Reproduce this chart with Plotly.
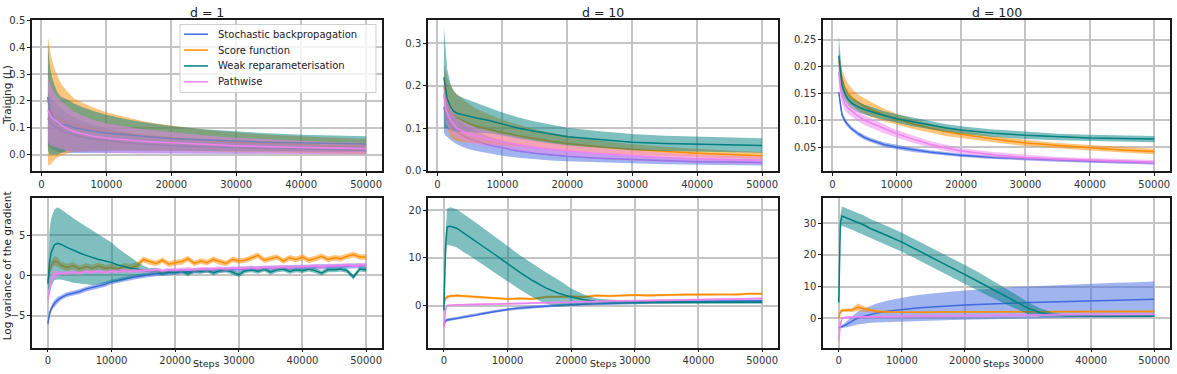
import plotly.graph_objects as go

# ---------------- data ----------------
names = ["Stochastic backpropagation", "Score function", "Weak reparameterisation", "Pathwise"]
titles = ["d = 1", "d = 10", "d = 100"]
x_ticks = [0, 10000, 20000, 30000, 40000, 50000]
x_ticklabels = ["0", "10000", "20000", "30000", "40000", "50000"]

steps_train = [1000, 1250, 1500, 2000, 2500, 3000, 4000, 5000, 6000, 8000, 10000, 12500,
               15000, 17500, 20000, 25000, 30000, 35000, 40000, 45000, 50000]

# d = 1, training loss (mean, std)
d1_train_sbp = [0.135, 0.125, 0.115, 0.105, 0.096, 0.090, 0.080, 0.073, 0.067, 0.058, 0.052, 0.045, 0.040, 0.036, 0.033, 0.028, 0.025, 0.022, 0.020, 0.018, 0.017]
d1_train_sbp_sd = [0.100, 0.098, 0.095, 0.090, 0.086, 0.082, 0.074, 0.066, 0.061, 0.052, 0.046, 0.040, 0.035, 0.031, 0.028, 0.024, 0.021, 0.019, 0.017, 0.016, 0.015]
d1_train_score = [0.200, 0.180, 0.165, 0.150, 0.140, 0.130, 0.120, 0.110, 0.105, 0.095, 0.088, 0.080, 0.073, 0.067, 0.062, 0.053, 0.046, 0.041, 0.037, 0.033, 0.030]
d1_train_score_sd = [0.240, 0.220, 0.200, 0.170, 0.150, 0.135, 0.115, 0.100, 0.092, 0.080, 0.070, 0.062, 0.055, 0.050, 0.046, 0.040, 0.036, 0.033, 0.031, 0.030, 0.028]
d1_train_weak = [0.215, 0.170, 0.150, 0.130, 0.115, 0.110, 0.110, 0.100, 0.095, 0.087, 0.080, 0.074, 0.068, 0.064, 0.060, 0.054, 0.050, 0.046, 0.043, 0.041, 0.039]
d1_train_weak_sd = [0.200, 0.170, 0.150, 0.130, 0.115, 0.105, 0.095, 0.090, 0.085, 0.075, 0.068, 0.060, 0.055, 0.050, 0.046, 0.040, 0.036, 0.033, 0.031, 0.030, 0.029]
d1_train_path = [0.165, 0.152, 0.142, 0.130, 0.120, 0.110, 0.096, 0.085, 0.079, 0.068, 0.062, 0.056, 0.050, 0.047, 0.044, 0.038, 0.033, 0.029, 0.026, 0.024, 0.022]
d1_train_path_sd = [0.120, 0.115, 0.110, 0.100, 0.095, 0.090, 0.082, 0.075, 0.070, 0.061, 0.055, 0.050, 0.046, 0.043, 0.040, 0.034, 0.030, 0.027, 0.025, 0.023, 0.022]

# d = 10, training loss
d10_train_sbp = [0.150, 0.130, 0.120, 0.107, 0.098, 0.092, 0.082, 0.075, 0.069, 0.060, 0.053, 0.046, 0.041, 0.037, 0.034, 0.029, 0.026, 0.023, 0.021, 0.020, 0.019]
d10_train_sbp_sd = [0.060, 0.048, 0.040, 0.035, 0.032, 0.030, 0.027, 0.025, 0.023, 0.020, 0.018, 0.016, 0.014, 0.013, 0.012, 0.010, 0.009, 0.008, 0.008, 0.007, 0.007]
d10_train_score = [0.200, 0.175, 0.160, 0.140, 0.130, 0.125, 0.117, 0.110, 0.105, 0.097, 0.090, 0.082, 0.075, 0.069, 0.064, 0.056, 0.050, 0.045, 0.041, 0.038, 0.035]
d10_train_score_sd = [0.050, 0.058, 0.060, 0.060, 0.058, 0.055, 0.050, 0.045, 0.041, 0.035, 0.030, 0.026, 0.022, 0.020, 0.018, 0.015, 0.012, 0.011, 0.010, 0.009, 0.009]
d10_train_weak = [0.220, 0.190, 0.170, 0.150, 0.140, 0.135, 0.131, 0.128, 0.124, 0.118, 0.110, 0.100, 0.093, 0.086, 0.080, 0.073, 0.067, 0.064, 0.062, 0.061, 0.059]
d10_train_weak_sd = [0.120, 0.090, 0.070, 0.055, 0.048, 0.044, 0.040, 0.037, 0.035, 0.030, 0.027, 0.025, 0.023, 0.022, 0.021, 0.020, 0.019, 0.018, 0.018, 0.018, 0.017]
d10_train_path = [0.180, 0.150, 0.135, 0.120, 0.110, 0.100, 0.092, 0.086, 0.081, 0.074, 0.068, 0.061, 0.055, 0.050, 0.046, 0.040, 0.035, 0.031, 0.028, 0.026, 0.024]
d10_train_path_sd = [0.035, 0.032, 0.030, 0.027, 0.025, 0.024, 0.022, 0.021, 0.020, 0.019, 0.018, 0.017, 0.016, 0.015, 0.014, 0.013, 0.012, 0.011, 0.010, 0.010, 0.009]

# d = 100, training loss
d100_train_sbp = [0.152, 0.125, 0.110, 0.098, 0.090, 0.084, 0.075, 0.068, 0.063, 0.055, 0.050, 0.045, 0.041, 0.038, 0.035, 0.031, 0.028, 0.026, 0.024, 0.022, 0.021]
d100_train_sbp_sd = [0.006, 0.005, 0.005, 0.005, 0.004, 0.004, 0.004, 0.004, 0.004, 0.004, 0.004, 0.004, 0.004, 0.003, 0.003, 0.003, 0.003, 0.003, 0.003, 0.003, 0.003]
d100_train_score = [0.210, 0.190, 0.175, 0.160, 0.150, 0.143, 0.133, 0.126, 0.120, 0.110, 0.102, 0.093, 0.086, 0.079, 0.074, 0.065, 0.058, 0.053, 0.049, 0.045, 0.042]
d100_train_score_sd = [0.020, 0.019, 0.018, 0.018, 0.017, 0.016, 0.015, 0.015, 0.014, 0.012, 0.010, 0.009, 0.008, 0.008, 0.007, 0.006, 0.006, 0.005, 0.005, 0.005, 0.005]
d100_train_weak = [0.220, 0.190, 0.165, 0.148, 0.138, 0.132, 0.125, 0.120, 0.116, 0.109, 0.103, 0.097, 0.091, 0.086, 0.082, 0.076, 0.072, 0.069, 0.067, 0.066, 0.065]
d100_train_weak_sd = [0.040, 0.028, 0.020, 0.012, 0.011, 0.010, 0.010, 0.009, 0.009, 0.008, 0.008, 0.008, 0.007, 0.007, 0.007, 0.007, 0.007, 0.006, 0.006, 0.006, 0.006]
d100_train_path = [0.190, 0.160, 0.145, 0.130, 0.122, 0.117, 0.108, 0.100, 0.095, 0.084, 0.075, 0.065, 0.056, 0.049, 0.043, 0.036, 0.031, 0.028, 0.026, 0.024, 0.022]
d100_train_path_sd = [0.020, 0.016, 0.014, 0.012, 0.011, 0.010, 0.010, 0.009, 0.009, 0.008, 0.007, 0.007, 0.006, 0.006, 0.005, 0.005, 0.005, 0.004, 0.004, 0.004, 0.004]

# log variance of the gradient, d = 1 (finer step grid)
steps_var_d1 = [0, 250, 500, 750, 1000, 1500, 2000, 3000, 4000, 5000, 6000, 7000, 8000, 9000,
                10000, 11000, 12000, 13000, 14000, 15000, 16000, 17000, 18000, 19000, 20000,
                21000, 22000, 23000, 24000, 25000, 26000, 27000, 28000, 29000, 30000, 31000,
                32000, 33000, 34000, 35000, 36000, 37000, 38000, 39000, 40000, 41000, 42000,
                43000, 44000, 45000, 46000, 47000, 48000, 49000, 50000]
d1_var_sbp = [-6.0, -4.8, -4.2, -3.8, -3.5, -3.1,
              -2.8, -2.4, -2.2, -2.0, -1.7, -1.5, -1.3, -1.1, -0.8, -0.6, -0.45, -0.3, -0.15, 0.0,
              0.1, 0.2, 0.3, 0.35, 0.4, 0.45,
              0.5, 0.55, 0.6, 0.6, 0.65, 0.7, 0.7, 0.75, 0.8,
              0.8, 0.85, 0.85, 0.9, 0.9, 0.95, 0.95, 1.0, 1.0, 1.0,
              1.05, 1.05, 1.1, 1.1, 1.1, 1.15, 1.15, 1.2, 1.2, 1.2]
d1_var_sbp_sd = [0.3, 0.4, 0.4, 0.4, 0.4, 0.4,
                 0.3, 0.3, 0.3, 0.3, 0.3, 0.3, 0.3, 0.3, 0.3, 0.3, 0.3, 0.3, 0.3, 0.3,
                 0.3, 0.3, 0.3, 0.3, 0.3, 0.3, 0.3, 0.3, 0.3, 0.3, 0.3, 0.3, 0.3, 0.3, 0.3,
                 0.3, 0.3, 0.3, 0.3, 0.3, 0.3, 0.3, 0.3, 0.3, 0.3, 0.3, 0.3, 0.3, 0.3, 0.3,
                 0.3, 0.3, 0.3, 0.3, 0.3]
d1_var_score = [-1.0, 0.5, 1.2, 1.6, 1.8, 1.7,
                1.3, 1.0, 1.2, 0.8, 1.1, 0.9, 1.2, 0.9, 1.0, 0.8, 1.1, 1.0, 1.2, 2.0,
                1.7, 1.5, 1.9, 1.4, 1.6, 1.7, 2.1, 1.5, 1.8, 1.6, 2.0, 1.7, 1.5, 2.0,
                1.8, 1.9, 2.2, 2.5, 1.9, 2.1, 2.3, 1.8, 2.2, 2.0, 2.3, 1.9, 2.1, 2.4,
                2.0, 2.2, 2.1, 2.4, 2.6, 2.3, 2.3]
d1_var_score_sd = [0.3, 0.5, 0.6, 0.6, 0.6, 0.6,
                   0.45, 0.45, 0.45, 0.45, 0.45, 0.45, 0.45, 0.45, 0.45, 0.45, 0.45, 0.45, 0.45,
                   0.35, 0.35, 0.35, 0.35, 0.35, 0.35, 0.35, 0.35, 0.35, 0.35, 0.35, 0.35, 0.35,
                   0.35, 0.35, 0.35, 0.35, 0.35, 0.35, 0.35, 0.35, 0.35, 0.35, 0.35, 0.35, 0.35,
                   0.35, 0.35, 0.35, 0.35, 0.35, 0.35, 0.35, 0.35, 0.35, 0.35]
d1_var_weak = [-1.0, 1.5, 2.8, 3.4, 3.8, 4.0,
               3.9, 3.5, 3.1, 2.8, 2.5, 2.2, 2.0, 1.8, 1.6, 1.3, 1.1, 0.9, 0.8, 0.6,
               0.5, 0.6, 0.3, 0.5, 0.4, 0.6, 0.2, 0.6, 0.5, 0.7, 0.3, 0.6, 0.7, 0.4,
               0.1, 0.6, 0.7, 0.5, 0.8, 0.4, 0.7, 0.8, 0.5, 0.7, 0.6, 0.8, 0.6, 0.3,
               0.7, 0.7, 0.8, 0.6, -0.2, 0.8, 0.7]
d1_var_weak_sd = [0.5, 4.0, 4.3, 4.4, 4.4, 4.5,
                  4.4, 4.2, 4.0, 3.8, 3.6, 3.4, 3.1, 2.8, 2.5, 2.1, 1.7, 1.3, 0.9, 0.6,
                  0.4, 0.35, 0.35, 0.3, 0.3,
                  0.3, 0.3, 0.3, 0.3, 0.3, 0.3, 0.3, 0.3, 0.3, 0.3, 0.3, 0.3, 0.3, 0.3, 0.3,
                  0.3, 0.3, 0.3, 0.3, 0.3, 0.3, 0.3, 0.3, 0.3, 0.3, 0.3, 0.3, 0.3, 0.3, 0.3]
d1_var_path = [-3.0, -1.5, -0.5, 0.0, 0.1, 0.2,
               0.3, 0.3, 0.4, 0.3, 0.5, 0.4, 0.5, 0.4, 0.5, 0.5,
               0.6, 0.5, 0.6, 0.6, 0.6, 0.7, 0.6, 0.7, 0.7, 0.7,
               0.8, 0.7, 0.8, 0.8, 0.8, 0.9, 0.8, 0.9, 0.9, 0.9,
               1.0, 0.9, 1.0, 1.0, 1.0, 1.1, 1.0, 1.1, 1.1, 1.1,
               1.2, 1.1, 1.2, 1.2, 1.2, 1.3, 1.2, 1.3, 1.3]
d1_var_path_sd = [0.6, 0.7, 0.7, 0.6, 0.5, 0.4,
                  0.25, 0.25, 0.25, 0.25, 0.25, 0.25, 0.25, 0.25, 0.25, 0.25,
                  0.25, 0.25, 0.25, 0.25, 0.25, 0.25, 0.25, 0.25, 0.25, 0.25,
                  0.25, 0.25, 0.25, 0.25, 0.25, 0.25, 0.25, 0.25, 0.25, 0.25,
                  0.25, 0.25, 0.25, 0.25, 0.25, 0.25, 0.25, 0.25, 0.25, 0.25,
                  0.25, 0.25, 0.25, 0.25, 0.25, 0.25, 0.25, 0.25, 0.25]

# log variance of the gradient, d = 10 and d = 100
steps_var = [0, 250, 500, 1000, 2000, 3000, 4000, 5000, 6000, 8000, 10000, 12000, 14000,
             16000, 18000, 20000, 22000, 24000, 26000, 28000, 30000, 32000, 34000, 36000,
             38000, 40000, 42000, 44000, 46000, 48000, 50000]
d10_var_sbp = [-4.0, -3.2, -3.0, -2.9, -2.7, -2.4, -2.2, -2.0, -1.7, -1.2, -0.8, -0.5, -0.3, -0.1, 0.1, 0.2,
               0.3, 0.4, 0.5, 0.6, 0.6, 0.7, 0.75, 0.8, 0.85, 0.9, 0.9, 0.95, 1.0, 1.0, 1.0]
d10_var_sbp_sd = [0.5, 0.4, 0.35, 0.3, 0.3, 0.3, 0.3, 0.3, 0.3, 0.3, 0.3, 0.3, 0.3, 0.3, 0.3, 0.3,
                  0.3, 0.3, 0.3, 0.3, 0.3, 0.3, 0.3, 0.3, 0.3, 0.3, 0.3, 0.3, 0.3, 0.3, 0.3]
d10_var_score = [0.5, 1.5, 1.8, 2.0, 2.1, 2.0, 1.9, 1.8, 1.7, 1.5, 1.4, 1.5, 1.4, 1.8, 1.9, 1.9,
                 1.8, 2.1, 2.0, 2.1, 2.2, 2.1, 2.2, 2.2, 2.3, 2.3, 2.3, 2.4, 2.3, 2.5, 2.5]
d10_var_score_sd = [0.3, 0.4, 0.4, 0.3, 0.3, 0.25, 0.25, 0.25, 0.25, 0.25, 0.25, 0.25, 0.25, 0.25, 0.25, 0.25,
                    0.25, 0.25, 0.25, 0.25, 0.25, 0.25, 0.25, 0.25, 0.25, 0.25, 0.25, 0.25, 0.25, 0.25, 0.25]
d10_var_weak = [-1.0, 12.0, 16.5, 16.6, 16.2, 15.3, 14.4, 13.5, 12.6, 10.7, 8.8, 6.9, 5.2, 3.7, 2.6, 1.8,
                1.2, 0.9, 0.8, 0.75, 0.7, 0.7, 0.7, 0.7, 0.7, 0.7, 0.7, 0.7, 0.7, 0.7, 0.7]
d10_var_weak_sd = [0.5, 3.0, 3.8, 4.0, 4.0, 4.0, 3.9, 3.9, 3.8, 3.8, 3.7, 3.6, 3.5, 3.3, 2.8, 1.8,
                   1.1, 0.6, 0.45, 0.35, 0.3, 0.3, 0.3, 0.3, 0.3, 0.3, 0.3, 0.3, 0.3, 0.3, 0.3]
d10_var_path = [-4.5, -1.0, 0.0, 0.1, 0.2, 0.2, 0.25, 0.3, 0.3, 0.35, 0.4, 0.45, 0.55, 0.6, 0.7, 0.8,
                0.85, 0.9, 0.95, 1.0, 1.1, 1.15, 1.2, 1.2, 1.25, 1.3, 1.35, 1.4, 1.4, 1.45, 1.5]
d10_var_path_sd = [0.8, 0.6, 0.3, 0.2, 0.2, 0.2, 0.2, 0.2, 0.2, 0.2, 0.2, 0.2, 0.2, 0.2, 0.2, 0.2,
                   0.2, 0.2, 0.2, 0.2, 0.2, 0.2, 0.2, 0.2, 0.2, 0.2, 0.2, 0.2, 0.2, 0.2, 0.2]

d100_var_sbp = [-3.0, -2.8, -2.6, -2.2, -1.0, 0.1, 0.7, 1.3, 1.7, 2.3, 2.8, 3.2, 3.5, 3.8, 4.0, 4.2,
                4.4, 4.6, 4.7, 4.9, 5.0, 5.1, 5.2, 5.3, 5.5, 5.6, 5.7, 5.8, 5.9, 5.9, 6.0]
d100_var_sbp_sd = [0.3, 0.4, 0.5, 0.8, 1.5, 2.0, 2.4, 2.7, 3.0, 3.4, 3.7, 4.0, 4.2, 4.4, 4.5, 4.6,
                   4.7, 4.8, 4.9, 5.0, 5.0, 5.1, 5.1, 5.2, 5.2, 5.3, 5.3, 5.4, 5.4, 5.5, 5.6]
d100_var_score = [0.0, 2.0, 2.5, 2.6, 2.6, 3.5, 3.0, 2.5, 2.2, 2.0, 1.9, 1.9, 1.9, 2.0, 2.0, 2.0,
                  2.0, 2.0, 2.1, 2.1, 2.1, 2.1, 2.1, 2.1, 2.2, 2.2, 2.2, 2.2, 2.2, 2.2, 2.2]
d100_var_score_sd = [0.3, 0.6, 0.5, 0.5, 0.6, 1.2, 0.8, 0.5, 0.4, 0.3, 0.3, 0.3, 0.3, 0.3, 0.3, 0.3,
                     0.3, 0.3, 0.3, 0.3, 0.3, 0.3, 0.3, 0.3, 0.3, 0.3, 0.3, 0.3, 0.3, 0.3, 0.3]
d100_var_weak = [5.0, 30.0, 32.2, 31.8, 31.0, 30.2, 29.4, 28.3, 27.5, 25.8, 24.0, 22.0, 20.0, 18.0, 15.9, 13.8,
                 11.7, 9.6, 7.5, 5.3, 3.2, 1.8, 1.1, 0.8, 0.7, 0.7, 0.7, 0.7, 0.7, 0.7, 0.7]
d100_var_weak_sd = [0.5, 2.5, 3.0, 3.0, 3.0, 3.0, 3.0, 3.0, 3.0, 3.0, 3.0, 3.0, 3.0, 3.0, 3.0, 3.0,
                    3.0, 2.8, 2.6, 2.3, 1.9, 1.3, 0.7, 0.4, 0.3, 0.3, 0.3, 0.3, 0.3, 0.3, 0.3]
d100_var_path = [-7.0, -2.0, 0.0, 0.3, 0.4, 0.45, 0.5, 0.5, 0.55, 0.6, 0.65, 0.7, 0.75, 0.8, 0.85, 0.9,
                 0.95, 1.0, 1.0, 1.05, 1.1, 1.1, 1.15, 1.15, 1.2, 1.2, 1.2, 1.25, 1.25, 1.3, 1.3]
d100_var_path_sd = [1.0, 0.8, 0.4, 0.3, 0.3, 0.3, 0.3, 0.3, 0.3, 0.3, 0.3, 0.3, 0.3, 0.3, 0.3, 0.3,
                    0.3, 0.3, 0.3, 0.3, 0.3, 0.3, 0.3, 0.3, 0.3, 0.3, 0.3, 0.3, 0.3, 0.3, 0.3]

# ---------------- figure ----------------
colors = ["#4169E1", "#FF8C00", "#008080", "#EE82EE"]
fills = ["rgba(65,105,225,0.5)", "rgba(255,140,0,0.5)", "rgba(0,128,128,0.5)", "rgba(238,130,238,0.5)"]

panels = [
    (steps_train, [(d1_train_sbp, d1_train_sbp_sd), (d1_train_score, d1_train_score_sd),
                   (d1_train_weak, d1_train_weak_sd), (d1_train_path, d1_train_path_sd)]),
    (steps_train, [(d10_train_sbp, d10_train_sbp_sd), (d10_train_score, d10_train_score_sd),
                   (d10_train_weak, d10_train_weak_sd), (d10_train_path, d10_train_path_sd)]),
    (steps_train, [(d100_train_sbp, d100_train_sbp_sd), (d100_train_score, d100_train_score_sd),
                   (d100_train_weak, d100_train_weak_sd), (d100_train_path, d100_train_path_sd)]),
    (steps_var_d1, [(d1_var_sbp, d1_var_sbp_sd), (d1_var_score, d1_var_score_sd),
                    (d1_var_weak, d1_var_weak_sd), (d1_var_path, d1_var_path_sd)]),
    (steps_var, [(d10_var_sbp, d10_var_sbp_sd), (d10_var_score, d10_var_score_sd),
                 (d10_var_weak, d10_var_weak_sd), (d10_var_path, d10_var_path_sd)]),
    (steps_var, [(d100_var_sbp, d100_var_sbp_sd), (d100_var_score, d100_var_score_sd),
                 (d100_var_weak, d100_var_weak_sd), (d100_var_path, d100_var_path_sd)]),
]

W, H = 1177, 374
col_px = [(32, 382), (428, 778), (823, 1170)]
row_px = [(15, 171), (198, 352)]
x_ranges = [[-1450, 52450]] * 3 + [[-2500, 52500]] * 3
y_ranges = [[-0.063, 0.503], [-0.002, 0.356], [0.005, 0.287],
            [-9.0, 9.7], [-8.8, 22.6], [-9.2, 38.0]]
y_ticks = [
    ([0, 0.1, 0.2, 0.3, 0.4, 0.5], ["0.0", "0.1", "0.2", "0.3", "0.4", "0.5"]),
    ([0, 0.1, 0.2, 0.3], ["0.0", "0.1", "0.2", "0.3"]),
    ([0.05, 0.10, 0.15, 0.20, 0.25], ["0.05", "0.10", "0.15", "0.20", "0.25"]),
    ([-5, 0, 5], ["\u22125", "0", "5"]),
    ([0, 10, 20], ["0", "10", "20"]),
    ([0, 10, 20, 30], ["0", "10", "20", "30"]),
]

fig = go.Figure()
font_family = "DejaVu Sans"
tick_font = dict(family=font_family, size=10, color="#333333")

for idx, (xs, series) in enumerate(panels):
    n = idx + 1
    xr = "x" if n == 1 else f"x{n}"
    yr = "y" if n == 1 else f"y{n}"
    for k, (m, s) in enumerate(series):
        up = [a + b for a, b in zip(m, s)]
        lo = [a - b for a, b in zip(m, s)]
        fig.add_trace(go.Scatter(
            x=list(xs) + list(xs)[::-1], y=up + lo[::-1], fill="toself",
            fillcolor=fills[k], line=dict(width=0, color=fills[k]), mode="lines",
            hoverinfo="skip", showlegend=False, xaxis=xr, yaxis=yr))
        fig.add_trace(go.Scatter(
            x=xs, y=m, mode="lines", line=dict(color=colors[k], width=1.5),
            name=names[k], showlegend=False, xaxis=xr, yaxis=yr))

    r = 0 if idx < 3 else 1
    c = idx % 3
    x0, x1 = col_px[c]
    y0, y1 = row_px[r]
    axis_common = dict(showline=True, mirror=True, linecolor="#1a1a1a", linewidth=1.5,
                       ticks="outside", ticklen=3, tickcolor="#1a1a1a", tickwidth=1,
                       showgrid=True, gridcolor="#c4c4c4", gridwidth=1.5,
                       zeroline=False, tickfont=tick_font)
    fig.layout["xaxis" if n == 1 else f"xaxis{n}"] = dict(
        domain=[x0 / W, x1 / W], range=x_ranges[idx], anchor=yr,
        tickvals=x_ticks, ticktext=x_ticklabels, **axis_common)
    fig.layout["yaxis" if n == 1 else f"yaxis{n}"] = dict(
        domain=[1 - y1 / H, 1 - y0 / H], range=y_ranges[idx], anchor=xr,
        tickvals=y_ticks[idx][0], ticktext=y_ticks[idx][1], **axis_common)

annotations = []
shapes = []
for c, t in enumerate(titles):
    cx = (col_px[c][0] + col_px[c][1]) / 2 / W
    annotations.append(dict(text=t, x=cx, y=1 - 8 / H, xref="paper", yref="paper",
                            xanchor="center", yanchor="middle", showarrow=False,
                            font=dict(family=font_family, size=12.5, color="#222222")))
    annotations.append(dict(text="Steps", x=cx, y=1 - 362 / H, xref="paper", yref="paper",
                            xanchor="center", yanchor="top", showarrow=False, borderpad=0,
                            font=dict(family=font_family, size=9.5, color="#222222")))
annotations.append(dict(text="Training (L)", x=6.5 / W, y=1 - 93 / H, xref="paper", yref="paper",
                        xanchor="center", yanchor="middle", textangle=-90, showarrow=False,
                        borderpad=0, font=dict(family=font_family, size=10.5, color="#222222")))
annotations.append(dict(text="Log variance of the gradient", x=6.5 / W, y=1 - 268 / H,
                        xref="paper", yref="paper", xanchor="center", yanchor="middle",
                        textangle=-90, showarrow=False, borderpad=0,
                        font=dict(family=font_family, size=10.5, color="#222222")))

# legend (drawn in panel 1, matplotlib style)
leg_left, leg_top, leg_right, leg_bottom = 180, 20, 376, 90
shapes.append(dict(type="rect", xref="paper", yref="paper",
                   x0=leg_left / W, x1=leg_right / W, y0=1 - leg_bottom / H, y1=1 - leg_top / H,
                   fillcolor="rgba(255,255,255,0.8)", line=dict(color="#cccccc", width=1),
                   layer="above"))
for k, name in enumerate(names):
    ry = 30 + k * 16.3
    shapes.append(dict(type="line", xref="paper", yref="paper",
                       x0=184 / W, x1=208 / W, y0=1 - ry / H, y1=1 - ry / H,
                       line=dict(color=colors[k], width=1.5), layer="above"))
    annotations.append(dict(text=name, x=216 / W, y=1 - ry / H, xref="paper", yref="paper",
                            xanchor="left", yanchor="middle", showarrow=False,
                            font=dict(family=font_family, size=10, color="#222222")))

fig.update_layout(
    width=W, height=H, margin=dict(l=0, r=0, t=0, b=0),
    paper_bgcolor="white", plot_bgcolor="white",
    annotations=annotations, shapes=shapes, showlegend=False,
)

fig.write_html("out.html")
